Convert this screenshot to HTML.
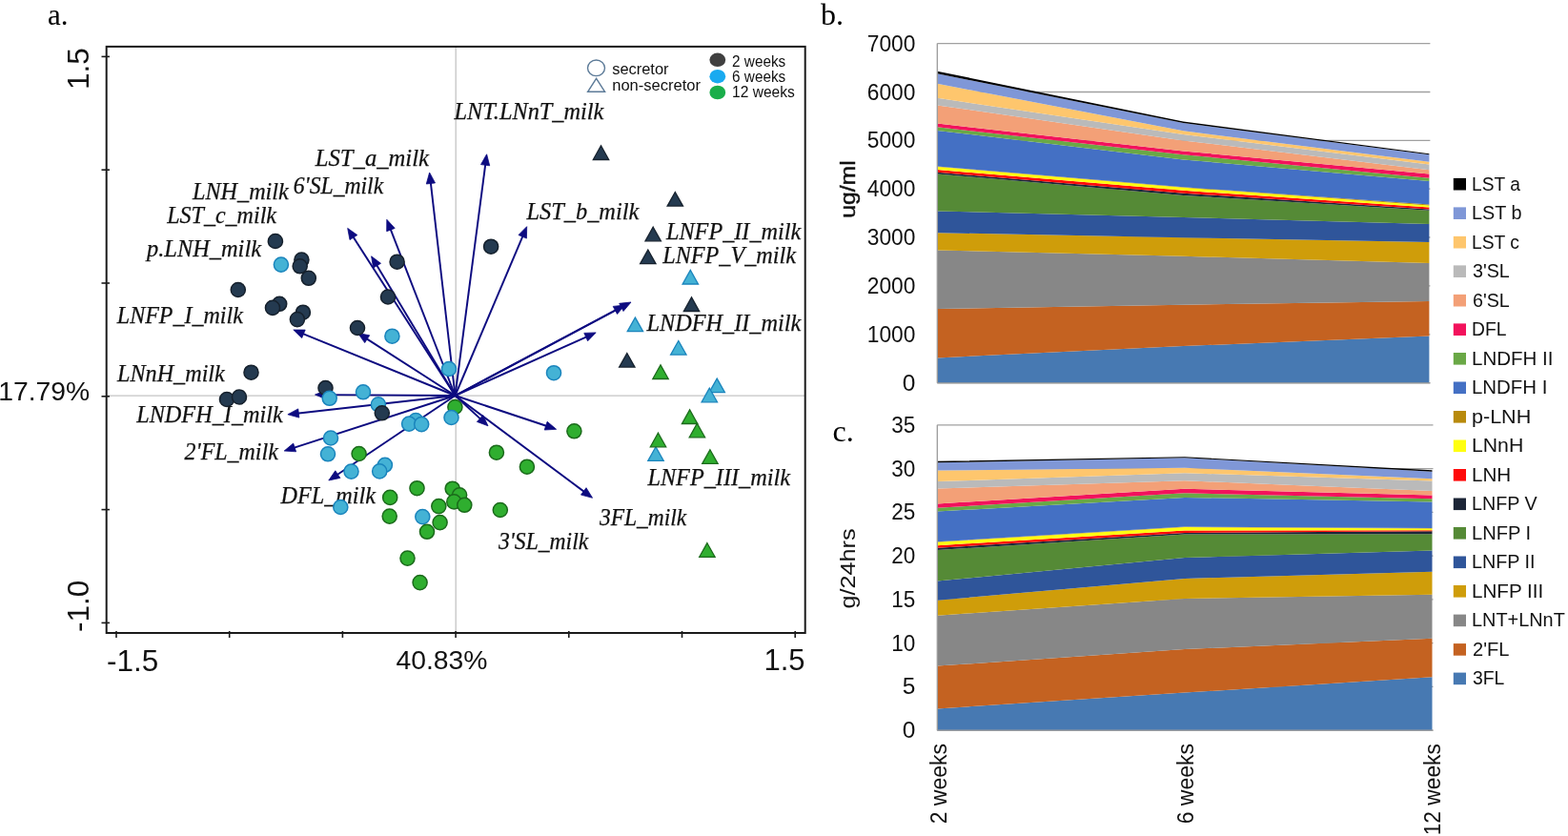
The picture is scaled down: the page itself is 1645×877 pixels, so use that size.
<!DOCTYPE html>
<html><head><meta charset="utf-8"><title>Figure</title><style>
html,body{margin:0;padding:0;background:#fff;overflow:hidden;}
svg{display:block;}
</style></head><body>
<svg width="1645" height="877" viewBox="0 0 1645 877">
<rect width="1645" height="877" fill="#fff"/>
<line x1="478.2" y1="48.9" x2="478.2" y2="664.0" stroke="#c4c4c4" stroke-width="1.3"/>
<line x1="111.7" y1="415.2" x2="844.7" y2="415.2" stroke="#c4c4c4" stroke-width="1.3"/>
<line x1="477.5" y1="415.0" x2="451.7" y2="190.4" stroke="#0d0b80" stroke-width="1.95"/>
<polygon points="450.6,181.0 456.5,191.9 447.3,193.0" fill="#0d0b80" stroke="#0d0b80" stroke-width="0.8" stroke-linejoin="miter"/>
<line x1="477.5" y1="415.0" x2="509.4" y2="171.2" stroke="#0d0b80" stroke-width="1.95"/>
<polygon points="510.6,161.8 513.7,173.8 504.5,172.6" fill="#0d0b80" stroke="#0d0b80" stroke-width="0.8" stroke-linejoin="miter"/>
<line x1="477.5" y1="415.0" x2="549.0" y2="246.4" stroke="#0d0b80" stroke-width="1.95"/>
<polygon points="552.7,237.7 552.4,250.1 544.0,246.5" fill="#0d0b80" stroke="#0d0b80" stroke-width="0.8" stroke-linejoin="miter"/>
<line x1="477.5" y1="415.0" x2="409.2" y2="239.2" stroke="#0d0b80" stroke-width="1.95"/>
<polygon points="405.8,230.3 414.2,239.4 405.7,242.7" fill="#0d0b80" stroke="#0d0b80" stroke-width="0.8" stroke-linejoin="miter"/>
<line x1="477.5" y1="415.0" x2="369.8" y2="247.4" stroke="#0d0b80" stroke-width="1.95"/>
<polygon points="364.7,239.4 374.8,246.6 367.0,251.6" fill="#0d0b80" stroke="#0d0b80" stroke-width="0.8" stroke-linejoin="miter"/>
<line x1="477.5" y1="415.0" x2="394.5" y2="276.9" stroke="#0d0b80" stroke-width="1.95"/>
<polygon points="389.6,268.8 399.5,276.3 391.6,281.0" fill="#0d0b80" stroke="#0d0b80" stroke-width="0.8" stroke-linejoin="miter"/>
<line x1="477.5" y1="415.0" x2="316.6" y2="349.6" stroke="#0d0b80" stroke-width="1.95"/>
<polygon points="307.8,346.0 320.2,346.1 316.7,354.6" fill="#0d0b80" stroke="#0d0b80" stroke-width="0.8" stroke-linejoin="miter"/>
<line x1="477.5" y1="415.0" x2="383.5" y2="354.6" stroke="#0d0b80" stroke-width="1.95"/>
<polygon points="375.5,349.5 387.7,351.8 382.7,359.6" fill="#0d0b80" stroke="#0d0b80" stroke-width="0.8" stroke-linejoin="miter"/>
<line x1="477.5" y1="415.0" x2="340.0" y2="414.1" stroke="#0d0b80" stroke-width="1.95"/>
<polygon points="330.5,414.0 342.0,409.5 342.0,418.7" fill="#0d0b80" stroke="#0d0b80" stroke-width="0.8" stroke-linejoin="miter"/>
<line x1="477.5" y1="415.0" x2="311.3" y2="433.7" stroke="#0d0b80" stroke-width="1.95"/>
<polygon points="301.9,434.8 312.8,428.9 313.8,438.1" fill="#0d0b80" stroke="#0d0b80" stroke-width="0.8" stroke-linejoin="miter"/>
<line x1="477.5" y1="415.0" x2="307.2" y2="470.1" stroke="#0d0b80" stroke-width="1.95"/>
<polygon points="298.2,473.0 307.7,465.1 310.6,473.8" fill="#0d0b80" stroke="#0d0b80" stroke-width="0.8" stroke-linejoin="miter"/>
<line x1="477.5" y1="415.0" x2="352.7" y2="498.7" stroke="#0d0b80" stroke-width="1.95"/>
<polygon points="344.8,504.0 351.8,493.8 356.9,501.4" fill="#0d0b80" stroke="#0d0b80" stroke-width="0.8" stroke-linejoin="miter"/>
<line x1="477.5" y1="415.0" x2="613.9" y2="516.6" stroke="#0d0b80" stroke-width="1.95"/>
<polygon points="621.5,522.3 609.5,519.1 615.0,511.7" fill="#0d0b80" stroke="#0d0b80" stroke-width="0.8" stroke-linejoin="miter"/>
<line x1="477.5" y1="415.0" x2="505.0" y2="440.4" stroke="#0d0b80" stroke-width="1.95"/>
<polygon points="512.0,446.8 500.4,442.4 506.7,435.6" fill="#0d0b80" stroke="#0d0b80" stroke-width="0.8" stroke-linejoin="miter"/>
<line x1="477.5" y1="415.0" x2="574.6" y2="447.3" stroke="#0d0b80" stroke-width="1.95"/>
<polygon points="583.6,450.3 571.2,451.0 574.1,442.3" fill="#0d0b80" stroke="#0d0b80" stroke-width="0.8" stroke-linejoin="miter"/>
<line x1="477.5" y1="415.0" x2="653.6" y2="321.5" stroke="#0d0b80" stroke-width="1.95"/>
<polygon points="662.0,317.0 654.0,326.5 649.7,318.3" fill="#0d0b80" stroke="#0d0b80" stroke-width="0.8" stroke-linejoin="miter"/>
<line x1="477.5" y1="415.0" x2="647.1" y2="324.5" stroke="#0d0b80" stroke-width="1.95"/>
<polygon points="655.5,320.0 647.5,329.5 643.2,321.4" fill="#0d0b80" stroke="#0d0b80" stroke-width="0.8" stroke-linejoin="miter"/>
<line x1="477.5" y1="415.0" x2="616.5" y2="352.8" stroke="#0d0b80" stroke-width="1.95"/>
<polygon points="625.2,348.9 616.6,357.8 612.8,349.4" fill="#0d0b80" stroke="#0d0b80" stroke-width="0.8" stroke-linejoin="miter"/>
<text x="476.4" y="125.3" font-family="Liberation Serif, serif" font-style="italic" font-size="24.3" fill="#111" stroke="#111" stroke-width="0.25" textLength="157.0" lengthAdjust="spacingAndGlyphs">LNT.LNnT_milk</text>
<text x="330.8" y="173.7" font-family="Liberation Serif, serif" font-style="italic" font-size="24.3" fill="#111" stroke="#111" stroke-width="0.25" textLength="119.2" lengthAdjust="spacingAndGlyphs">LST_a_milk</text>
<text x="307.8" y="202.9" font-family="Liberation Serif, serif" font-style="italic" font-size="24.3" fill="#111" stroke="#111" stroke-width="0.25" textLength="94.4" lengthAdjust="spacingAndGlyphs">6'SL_milk</text>
<text x="202.0" y="209.4" font-family="Liberation Serif, serif" font-style="italic" font-size="24.3" fill="#111" stroke="#111" stroke-width="0.25" textLength="100.8" lengthAdjust="spacingAndGlyphs">LNH_milk</text>
<text x="175.2" y="234.3" font-family="Liberation Serif, serif" font-style="italic" font-size="24.3" fill="#111" stroke="#111" stroke-width="0.25" textLength="114.8" lengthAdjust="spacingAndGlyphs">LST_c_milk</text>
<text x="552.6" y="229.5" font-family="Liberation Serif, serif" font-style="italic" font-size="24.3" fill="#111" stroke="#111" stroke-width="0.25" textLength="117.6" lengthAdjust="spacingAndGlyphs">LST_b_milk</text>
<text x="699.0" y="250.8" font-family="Liberation Serif, serif" font-style="italic" font-size="24.3" fill="#111" stroke="#111" stroke-width="0.25" textLength="141.2" lengthAdjust="spacingAndGlyphs">LNFP_II_milk</text>
<text x="154.0" y="268.5" font-family="Liberation Serif, serif" font-style="italic" font-size="24.3" fill="#111" stroke="#111" stroke-width="0.25" textLength="120.0" lengthAdjust="spacingAndGlyphs">p.LNH_milk</text>
<text x="695.2" y="275.9" font-family="Liberation Serif, serif" font-style="italic" font-size="24.3" fill="#111" stroke="#111" stroke-width="0.25" textLength="139.8" lengthAdjust="spacingAndGlyphs">LNFP_V_milk</text>
<text x="122.8" y="339.0" font-family="Liberation Serif, serif" font-style="italic" font-size="24.3" fill="#111" stroke="#111" stroke-width="0.25" textLength="132.0" lengthAdjust="spacingAndGlyphs">LNFP_I_milk</text>
<text x="678.6" y="346.6" font-family="Liberation Serif, serif" font-style="italic" font-size="24.3" fill="#111" stroke="#111" stroke-width="0.25" textLength="161.6" lengthAdjust="spacingAndGlyphs">LNDFH_II_milk</text>
<text x="123.0" y="399.5" font-family="Liberation Serif, serif" font-style="italic" font-size="24.3" fill="#111" stroke="#111" stroke-width="0.25" textLength="112.8" lengthAdjust="spacingAndGlyphs">LNnH_milk</text>
<text x="143.2" y="442.9" font-family="Liberation Serif, serif" font-style="italic" font-size="24.3" fill="#111" stroke="#111" stroke-width="0.25" textLength="153.6" lengthAdjust="spacingAndGlyphs">LNDFH_I_milk</text>
<text x="193.6" y="481.7" font-family="Liberation Serif, serif" font-style="italic" font-size="24.3" fill="#111" stroke="#111" stroke-width="0.25" textLength="98.2" lengthAdjust="spacingAndGlyphs">2'FL_milk</text>
<text x="679.4" y="508.5" font-family="Liberation Serif, serif" font-style="italic" font-size="24.3" fill="#111" stroke="#111" stroke-width="0.25" textLength="149.6" lengthAdjust="spacingAndGlyphs">LNFP_III_milk</text>
<text x="294.4" y="527.7" font-family="Liberation Serif, serif" font-style="italic" font-size="24.3" fill="#111" stroke="#111" stroke-width="0.25" textLength="99.6" lengthAdjust="spacingAndGlyphs">DFL_milk</text>
<text x="629.0" y="550.6" font-family="Liberation Serif, serif" font-style="italic" font-size="24.3" fill="#111" stroke="#111" stroke-width="0.25" textLength="91.2" lengthAdjust="spacingAndGlyphs">3FL_milk</text>
<text x="523.0" y="576.2" font-family="Liberation Serif, serif" font-style="italic" font-size="24.3" fill="#111" stroke="#111" stroke-width="0.25" textLength="94.2" lengthAdjust="spacingAndGlyphs">3'SL_milk</text>
<circle cx="288.9" cy="253" r="7.55" fill="#243a50" stroke="#16212d" stroke-width="1.5"/>
<circle cx="316.4" cy="272.6" r="7.55" fill="#243a50" stroke="#16212d" stroke-width="1.5"/>
<circle cx="314.7" cy="279.3" r="7.55" fill="#243a50" stroke="#16212d" stroke-width="1.5"/>
<circle cx="323.8" cy="291.8" r="7.55" fill="#243a50" stroke="#16212d" stroke-width="1.5"/>
<circle cx="249.8" cy="304" r="7.55" fill="#243a50" stroke="#16212d" stroke-width="1.5"/>
<circle cx="293.2" cy="318.8" r="7.55" fill="#243a50" stroke="#16212d" stroke-width="1.5"/>
<circle cx="286" cy="322.9" r="7.55" fill="#243a50" stroke="#16212d" stroke-width="1.5"/>
<circle cx="317.9" cy="327.7" r="7.55" fill="#243a50" stroke="#16212d" stroke-width="1.5"/>
<circle cx="311.9" cy="335.1" r="7.55" fill="#243a50" stroke="#16212d" stroke-width="1.5"/>
<circle cx="416.6" cy="274.7" r="7.55" fill="#243a50" stroke="#16212d" stroke-width="1.5"/>
<circle cx="407" cy="311.5" r="7.55" fill="#243a50" stroke="#16212d" stroke-width="1.5"/>
<circle cx="375" cy="344" r="7.55" fill="#243a50" stroke="#16212d" stroke-width="1.5"/>
<circle cx="515.1" cy="258.7" r="7.55" fill="#243a50" stroke="#16212d" stroke-width="1.5"/>
<circle cx="263.5" cy="390.7" r="7.55" fill="#243a50" stroke="#16212d" stroke-width="1.5"/>
<circle cx="238" cy="419" r="7.55" fill="#243a50" stroke="#16212d" stroke-width="1.5"/>
<circle cx="251" cy="416.5" r="7.55" fill="#243a50" stroke="#16212d" stroke-width="1.5"/>
<circle cx="341.5" cy="407" r="7.55" fill="#243a50" stroke="#16212d" stroke-width="1.5"/>
<circle cx="294.9" cy="277.6" r="7.55" fill="#44b2d5" stroke="#1a84bc" stroke-width="1.5"/>
<circle cx="411.4" cy="352.7" r="7.55" fill="#44b2d5" stroke="#1a84bc" stroke-width="1.5"/>
<circle cx="471" cy="387" r="7.55" fill="#44b2d5" stroke="#1a84bc" stroke-width="1.5"/>
<circle cx="345.7" cy="417.8" r="7.55" fill="#44b2d5" stroke="#1a84bc" stroke-width="1.5"/>
<circle cx="381" cy="411.3" r="7.55" fill="#44b2d5" stroke="#1a84bc" stroke-width="1.5"/>
<circle cx="396.9" cy="424.4" r="7.55" fill="#44b2d5" stroke="#1a84bc" stroke-width="1.5"/>
<circle cx="436.2" cy="441" r="7.55" fill="#44b2d5" stroke="#1a84bc" stroke-width="1.5"/>
<circle cx="429.1" cy="444.6" r="7.55" fill="#44b2d5" stroke="#1a84bc" stroke-width="1.5"/>
<circle cx="442.2" cy="445.1" r="7.55" fill="#44b2d5" stroke="#1a84bc" stroke-width="1.5"/>
<circle cx="347" cy="459.5" r="7.55" fill="#44b2d5" stroke="#1a84bc" stroke-width="1.5"/>
<circle cx="344" cy="476.3" r="7.55" fill="#44b2d5" stroke="#1a84bc" stroke-width="1.5"/>
<circle cx="368.5" cy="494.6" r="7.55" fill="#44b2d5" stroke="#1a84bc" stroke-width="1.5"/>
<circle cx="403.9" cy="487.8" r="7.55" fill="#44b2d5" stroke="#1a84bc" stroke-width="1.5"/>
<circle cx="398.2" cy="494.4" r="7.55" fill="#44b2d5" stroke="#1a84bc" stroke-width="1.5"/>
<circle cx="357.3" cy="532" r="7.55" fill="#44b2d5" stroke="#1a84bc" stroke-width="1.5"/>
<circle cx="443.3" cy="542.1" r="7.55" fill="#44b2d5" stroke="#1a84bc" stroke-width="1.5"/>
<circle cx="581" cy="391.2" r="7.55" fill="#44b2d5" stroke="#1a84bc" stroke-width="1.5"/>
<circle cx="400.8" cy="433.3" r="7.55" fill="#243a50" stroke="#16212d" stroke-width="1.5"/>
<circle cx="477.4" cy="427" r="7.55" fill="#2fae2f" stroke="#1b6a1b" stroke-width="1.5"/>
<circle cx="376.6" cy="476" r="7.55" fill="#2fae2f" stroke="#1b6a1b" stroke-width="1.5"/>
<circle cx="602.4" cy="452.3" r="7.55" fill="#2fae2f" stroke="#1b6a1b" stroke-width="1.5"/>
<circle cx="520.9" cy="474.7" r="7.55" fill="#2fae2f" stroke="#1b6a1b" stroke-width="1.5"/>
<circle cx="552.9" cy="489.7" r="7.55" fill="#2fae2f" stroke="#1b6a1b" stroke-width="1.5"/>
<circle cx="437.5" cy="512.2" r="7.55" fill="#2fae2f" stroke="#1b6a1b" stroke-width="1.5"/>
<circle cx="409.2" cy="521.9" r="7.55" fill="#2fae2f" stroke="#1b6a1b" stroke-width="1.5"/>
<circle cx="474.7" cy="512.7" r="7.55" fill="#2fae2f" stroke="#1b6a1b" stroke-width="1.5"/>
<circle cx="482.1" cy="519.3" r="7.55" fill="#2fae2f" stroke="#1b6a1b" stroke-width="1.5"/>
<circle cx="476.3" cy="526.4" r="7.55" fill="#2fae2f" stroke="#1b6a1b" stroke-width="1.5"/>
<circle cx="487.3" cy="529.8" r="7.55" fill="#2fae2f" stroke="#1b6a1b" stroke-width="1.5"/>
<circle cx="460.3" cy="531.1" r="7.55" fill="#2fae2f" stroke="#1b6a1b" stroke-width="1.5"/>
<circle cx="408.7" cy="541.6" r="7.55" fill="#2fae2f" stroke="#1b6a1b" stroke-width="1.5"/>
<circle cx="461.6" cy="548.1" r="7.55" fill="#2fae2f" stroke="#1b6a1b" stroke-width="1.5"/>
<circle cx="448" cy="557.8" r="7.55" fill="#2fae2f" stroke="#1b6a1b" stroke-width="1.5"/>
<circle cx="524.8" cy="535" r="7.55" fill="#2fae2f" stroke="#1b6a1b" stroke-width="1.5"/>
<circle cx="427.5" cy="585.6" r="7.55" fill="#2fae2f" stroke="#1b6a1b" stroke-width="1.5"/>
<circle cx="440.6" cy="611.1" r="7.55" fill="#2fae2f" stroke="#1b6a1b" stroke-width="1.5"/>
<circle cx="473.5" cy="438" r="7.55" fill="#44b2d5" stroke="#1a84bc" stroke-width="1.5"/>
<polygon points="630.5,152.9 638.7,167.5 622.3,167.5" fill="#243a50" stroke="#16212d" stroke-width="1.3" stroke-linejoin="miter"/>
<polygon points="708.3,201.5 716.5,216.1 700.1,216.1" fill="#243a50" stroke="#16212d" stroke-width="1.3" stroke-linejoin="miter"/>
<polygon points="685.2,238.2 693.4,252.8 677.0,252.8" fill="#243a50" stroke="#16212d" stroke-width="1.3" stroke-linejoin="miter"/>
<polygon points="679.8,262.0 688.0,276.6 671.6,276.6" fill="#243a50" stroke="#16212d" stroke-width="1.3" stroke-linejoin="miter"/>
<polygon points="725.5,311.9 733.7,326.5 717.3,326.5" fill="#243a50" stroke="#16212d" stroke-width="1.3" stroke-linejoin="miter"/>
<polygon points="657.8,370.5 666.0,385.1 649.6,385.1" fill="#243a50" stroke="#16212d" stroke-width="1.3" stroke-linejoin="miter"/>
<polygon points="724.3,283.4 732.5,298.0 716.1,298.0" fill="#44b2d5" stroke="#1a84bc" stroke-width="1.3" stroke-linejoin="miter"/>
<polygon points="666.4,333.1 674.6,347.7 658.2,347.7" fill="#44b2d5" stroke="#1a84bc" stroke-width="1.3" stroke-linejoin="miter"/>
<polygon points="711.8,357.5 720.0,372.1 703.6,372.1" fill="#44b2d5" stroke="#1a84bc" stroke-width="1.3" stroke-linejoin="miter"/>
<polygon points="752.2,397.1 760.4,411.7 744.0,411.7" fill="#44b2d5" stroke="#1a84bc" stroke-width="1.3" stroke-linejoin="miter"/>
<polygon points="744.3,407.2 752.5,421.8 736.1,421.8" fill="#44b2d5" stroke="#1a84bc" stroke-width="1.3" stroke-linejoin="miter"/>
<polygon points="688.0,468.8 696.2,483.4 679.8,483.4" fill="#44b2d5" stroke="#1a84bc" stroke-width="1.3" stroke-linejoin="miter"/>
<polygon points="693.0,382.9 701.2,397.5 684.8,397.5" fill="#2fae2f" stroke="#1b6a1b" stroke-width="1.3" stroke-linejoin="miter"/>
<polygon points="723.6,429.9 731.8,444.5 715.4,444.5" fill="#2fae2f" stroke="#1b6a1b" stroke-width="1.3" stroke-linejoin="miter"/>
<polygon points="731.4,444.2 739.6,458.8 723.2,458.8" fill="#2fae2f" stroke="#1b6a1b" stroke-width="1.3" stroke-linejoin="miter"/>
<polygon points="690.5,454.2 698.7,468.8 682.3,468.8" fill="#2fae2f" stroke="#1b6a1b" stroke-width="1.3" stroke-linejoin="miter"/>
<polygon points="744.9,471.8 753.1,486.4 736.7,486.4" fill="#2fae2f" stroke="#1b6a1b" stroke-width="1.3" stroke-linejoin="miter"/>
<polygon points="741.9,569.7 750.1,584.3 733.7,584.3" fill="#2fae2f" stroke="#1b6a1b" stroke-width="1.3" stroke-linejoin="miter"/>
<rect x="111.7" y="48.9" width="733.0" height="615.1" fill="none" stroke="#1a1a1a" stroke-width="2"/>
<line x1="106.5" y1="59.4" x2="115" y2="59.4" stroke="#1a1a1a" stroke-width="1.6"/>
<line x1="106.5" y1="178.2" x2="115" y2="178.2" stroke="#1a1a1a" stroke-width="1.6"/>
<line x1="106.5" y1="297.0" x2="115" y2="297.0" stroke="#1a1a1a" stroke-width="1.6"/>
<line x1="106.5" y1="415.8" x2="115" y2="415.8" stroke="#1a1a1a" stroke-width="1.6"/>
<line x1="106.5" y1="534.6" x2="115" y2="534.6" stroke="#1a1a1a" stroke-width="1.6"/>
<line x1="106.5" y1="653.4" x2="115" y2="653.4" stroke="#1a1a1a" stroke-width="1.6"/>
<line x1="122.0" y1="662.0" x2="122.0" y2="669.0" stroke="#1a1a1a" stroke-width="1.6"/>
<line x1="240.7" y1="662.0" x2="240.7" y2="669.0" stroke="#1a1a1a" stroke-width="1.6"/>
<line x1="359.4" y1="662.0" x2="359.4" y2="669.0" stroke="#1a1a1a" stroke-width="1.6"/>
<line x1="478.1" y1="662.0" x2="478.1" y2="669.0" stroke="#1a1a1a" stroke-width="1.6"/>
<line x1="596.8" y1="662.0" x2="596.8" y2="669.0" stroke="#1a1a1a" stroke-width="1.6"/>
<line x1="715.5" y1="662.0" x2="715.5" y2="669.0" stroke="#1a1a1a" stroke-width="1.6"/>
<line x1="834.2" y1="662.0" x2="834.2" y2="669.0" stroke="#1a1a1a" stroke-width="1.6"/>
<text transform="translate(93.2,94) rotate(-90)" font-family="Liberation Sans, sans-serif" font-size="31.5" fill="#111">1.5</text>
<text transform="translate(93.2,663) rotate(-90)" font-family="Liberation Sans, sans-serif" font-size="31.5" fill="#111">-1.0</text>
<text x="112" y="703.5" font-family="Liberation Sans, sans-serif" font-size="31.5" fill="#111">-1.5</text>
<text x="415.5" y="701.5" font-family="Liberation Sans, sans-serif" font-size="28.3" fill="#111">40.83%</text>
<text x="801.5" y="702.7" font-family="Liberation Sans, sans-serif" font-size="31" fill="#111">1.5</text>
<text x="-1.8" y="419.5" font-family="Liberation Sans, sans-serif" font-size="28.3" fill="#111">17.79%</text>
<text x="50" y="26" font-family="Liberation Serif, serif" font-size="31" fill="#000">a.</text>
<ellipse cx="625.5" cy="71.3" rx="9" ry="8.3" fill="none" stroke="#5d7b98" stroke-width="1.4"/>
<polygon points="625.6,82.3 634.6,96.3 616.6,96.3" fill="none" stroke="#5d7b98" stroke-width="1.4"/>
<ellipse cx="752.8" cy="62.8" rx="8.4" ry="7.3" fill="#404040"/>
<ellipse cx="752.8" cy="80.2" rx="8.4" ry="7.3" fill="#19aaf0"/>
<ellipse cx="752.8" cy="97.0" rx="8.4" ry="7.3" fill="#1aae4a"/>
<text x="642.2" y="77.6" font-family="Liberation Sans, sans-serif" font-size="16.5" fill="#111" textLength="59.3" lengthAdjust="spacingAndGlyphs">secretor</text>
<text x="642.2" y="94.7" font-family="Liberation Sans, sans-serif" font-size="16.5" fill="#111" textLength="92.8" lengthAdjust="spacingAndGlyphs">non-secretor</text>
<text x="768.1" y="69.7" font-family="Liberation Sans, sans-serif" font-size="16.5" fill="#111" textLength="56.1" lengthAdjust="spacingAndGlyphs">2 weeks</text>
<text x="768.1" y="85.8" font-family="Liberation Sans, sans-serif" font-size="16.5" fill="#111" textLength="56.1" lengthAdjust="spacingAndGlyphs">6 weeks</text>
<text x="768.1" y="102" font-family="Liberation Sans, sans-serif" font-size="16.5" fill="#111" textLength="65.7" lengthAdjust="spacingAndGlyphs">12 weeks</text>
<line x1="983.3" y1="45.6" x2="1500.4" y2="45.6" stroke="#a0a0a0" stroke-width="1.3"/>
<line x1="983.3" y1="96.5" x2="1500.4" y2="96.5" stroke="#a0a0a0" stroke-width="1.3"/>
<line x1="983.3" y1="147.3" x2="1500.4" y2="147.3" stroke="#a0a0a0" stroke-width="1.3"/>
<line x1="983.3" y1="198.2" x2="1500.4" y2="198.2" stroke="#a0a0a0" stroke-width="1.3"/>
<line x1="983.3" y1="249.0" x2="1500.4" y2="249.0" stroke="#a0a0a0" stroke-width="1.3"/>
<line x1="983.3" y1="299.9" x2="1500.4" y2="299.9" stroke="#a0a0a0" stroke-width="1.3"/>
<line x1="983.3" y1="350.8" x2="1500.4" y2="350.8" stroke="#a0a0a0" stroke-width="1.3"/>
<line x1="983.3" y1="401.6" x2="1500.4" y2="401.6" stroke="#a0a0a0" stroke-width="1.3"/>
<polygon points="983.3,401.8 1241.4,401.8 1499.4,401.8 1499.4,352.4 1241.4,363.1 983.3,375.4" fill="#4779b2"/>
<polygon points="983.3,375.4 1241.4,363.1 1499.4,352.4 1499.4,315.9 1241.4,319.8 983.3,324.1" fill="#c46221"/>
<polygon points="983.3,324.1 1241.4,319.8 1499.4,315.9 1499.4,275.9 1241.4,268.8 983.3,262.5" fill="#878787"/>
<polygon points="983.3,262.5 1241.4,268.8 1499.4,275.9 1499.4,254 1241.4,249.3 983.3,244.2" fill="#cf9d0a"/>
<polygon points="983.3,244.2 1241.4,249.3 1499.4,254 1499.4,235 1241.4,227.9 983.3,221.4" fill="#2f559a"/>
<polygon points="983.3,221.4 1241.4,227.9 1499.4,235 1499.4,220.7 1241.4,205.0 983.3,182.5" fill="#558a36"/>
<polygon points="983.3,182.5 1241.4,205.0 1499.4,220.7 1499.4,219.6 1241.4,202.7 983.3,180.8" fill="#1c2637"/>
<polygon points="983.3,180.8 1241.4,202.7 1499.4,219.6 1499.4,217.4 1241.4,199.8 983.3,178.1" fill="#ff0a0a"/>
<polygon points="983.3,178.1 1241.4,199.8 1499.4,217.4 1499.4,215.4 1241.4,196.8 983.3,174.9" fill="#ffff10"/>
<polygon points="983.3,174.9 1241.4,196.8 1499.4,215.4 1499.4,214.6 1241.4,196.3 983.3,174.6" fill="#b88a0c"/>
<polygon points="983.3,174.6 1241.4,196.3 1499.4,214.6 1499.4,190.1 1241.4,167.4 983.3,137.0" fill="#4470c4"/>
<polygon points="983.3,137.0 1241.4,167.4 1499.4,190.1 1499.4,186.7 1241.4,162.2 983.3,133.3" fill="#6aa846"/>
<polygon points="983.3,133.3 1241.4,162.2 1499.4,186.7 1499.4,182.6 1241.4,158.5 983.3,129.5" fill="#f2125c"/>
<polygon points="983.3,129.5 1241.4,158.5 1499.4,182.6 1499.4,178.2 1241.4,147.4 983.3,110.4" fill="#f3a077"/>
<polygon points="983.3,110.4 1241.4,147.4 1499.4,178.2 1499.4,172.6 1241.4,141.1 983.3,102.8" fill="#bababa"/>
<polygon points="983.3,102.8 1241.4,141.1 1499.4,172.6 1499.4,169.8 1241.4,137.3 983.3,87.8" fill="#fec66d"/>
<polygon points="983.3,87.8 1241.4,137.3 1499.4,169.8 1499.4,162.2 1241.4,129.1 983.3,77.3" fill="#7f97d7"/>
<polygon points="983.3,77.3 1241.4,129.1 1499.4,162.2 1499.4,161.3 1241.4,127.4 983.3,74.8" fill="#000000"/>
<line x1="983.3" y1="45.6" x2="983.3" y2="401.8" stroke="#9a9a9a" stroke-width="1.3"/>
<line x1="983.3" y1="401.8" x2="1500.4" y2="401.8" stroke="#9a9a9a" stroke-width="1.2"/>
<text x="960.3" y="53.6" font-family="Liberation Sans, sans-serif" font-size="23.3" text-anchor="end" fill="#111" textLength="50.5" lengthAdjust="spacingAndGlyphs">7000</text>
<text x="960.3" y="104.5" font-family="Liberation Sans, sans-serif" font-size="23.3" text-anchor="end" fill="#111" textLength="50.5" lengthAdjust="spacingAndGlyphs">6000</text>
<text x="960.3" y="155.3" font-family="Liberation Sans, sans-serif" font-size="23.3" text-anchor="end" fill="#111" textLength="50.5" lengthAdjust="spacingAndGlyphs">5000</text>
<text x="960.3" y="206.2" font-family="Liberation Sans, sans-serif" font-size="23.3" text-anchor="end" fill="#111" textLength="50.5" lengthAdjust="spacingAndGlyphs">4000</text>
<text x="960.3" y="257.0" font-family="Liberation Sans, sans-serif" font-size="23.3" text-anchor="end" fill="#111" textLength="50.5" lengthAdjust="spacingAndGlyphs">3000</text>
<text x="960.3" y="307.9" font-family="Liberation Sans, sans-serif" font-size="23.3" text-anchor="end" fill="#111" textLength="50.5" lengthAdjust="spacingAndGlyphs">2000</text>
<text x="960.3" y="358.8" font-family="Liberation Sans, sans-serif" font-size="23.3" text-anchor="end" fill="#111" textLength="50.5" lengthAdjust="spacingAndGlyphs">1000</text>
<text x="960.3" y="409.6" font-family="Liberation Sans, sans-serif" font-size="23.3" text-anchor="end" fill="#111" textLength="13.6" lengthAdjust="spacingAndGlyphs">0</text>
<line x1="983.3" y1="445.8" x2="1503.5" y2="445.8" stroke="#a0a0a0" stroke-width="1.3"/>
<line x1="983.3" y1="491.6" x2="1503.5" y2="491.6" stroke="#a0a0a0" stroke-width="1.3"/>
<line x1="983.3" y1="537.3" x2="1503.5" y2="537.3" stroke="#a0a0a0" stroke-width="1.3"/>
<line x1="983.3" y1="583.1" x2="1503.5" y2="583.1" stroke="#a0a0a0" stroke-width="1.3"/>
<line x1="983.3" y1="628.9" x2="1503.5" y2="628.9" stroke="#a0a0a0" stroke-width="1.3"/>
<line x1="983.3" y1="674.7" x2="1503.5" y2="674.7" stroke="#a0a0a0" stroke-width="1.3"/>
<line x1="983.3" y1="720.4" x2="1503.5" y2="720.4" stroke="#a0a0a0" stroke-width="1.3"/>
<line x1="983.3" y1="766.2" x2="1503.5" y2="766.2" stroke="#a0a0a0" stroke-width="1.3"/>
<polygon points="983.3,766.2 1242.9,766.2 1502.5,766.2 1502.5,710.3 1242.9,726.6 983.3,743.5" fill="#4779b2"/>
<polygon points="983.3,743.5 1242.9,726.6 1502.5,710.3 1502.5,669.8 1242.9,681.1 983.3,698.6" fill="#c46221"/>
<polygon points="983.3,698.6 1242.9,681.1 1502.5,669.8 1502.5,623.7 1242.9,628 983.3,645.7" fill="#878787"/>
<polygon points="983.3,645.7 1242.9,628 1502.5,623.7 1502.5,599.8 1242.9,606.9 983.3,629.7" fill="#cf9d0a"/>
<polygon points="983.3,629.7 1242.9,606.9 1502.5,599.8 1502.5,577.5 1242.9,585 983.3,609.6" fill="#2f559a"/>
<polygon points="983.3,609.6 1242.9,585 1502.5,577.5 1502.5,560.3 1242.9,560.4 983.3,577.0" fill="#558a36"/>
<polygon points="983.3,577.0 1242.9,560.4 1502.5,560.3 1502.5,557.3 1242.9,558.9 983.3,574.8" fill="#1c2637"/>
<polygon points="983.3,574.8 1242.9,558.9 1502.5,557.3 1502.5,556.3 1242.9,556.6 983.3,572.2" fill="#ff0a0a"/>
<polygon points="983.3,572.2 1242.9,556.6 1502.5,556.3 1502.5,554.5 1242.9,553.0 983.3,568.8" fill="#ffff10"/>
<polygon points="983.3,568.8 1242.9,553.0 1502.5,554.5 1502.5,554.0 1242.9,552.6 983.3,568.3" fill="#b88a0c"/>
<polygon points="983.3,568.3 1242.9,552.6 1502.5,554.0 1502.5,526.4 1242.9,521.9 983.3,536.5" fill="#4470c4"/>
<polygon points="983.3,536.5 1242.9,521.9 1502.5,526.4 1502.5,523.3 1242.9,517.3 983.3,532.7" fill="#6aa846"/>
<polygon points="983.3,532.7 1242.9,517.3 1502.5,523.3 1502.5,519.5 1242.9,512.7 983.3,528.4" fill="#f2125c"/>
<polygon points="983.3,528.4 1242.9,512.7 1502.5,519.5 1502.5,515.1 1242.9,504.2 983.3,512.6" fill="#f3a077"/>
<polygon points="983.3,512.6 1242.9,504.2 1502.5,515.1 1502.5,504.5 1242.9,496.2 983.3,505.1" fill="#bababa"/>
<polygon points="983.3,505.1 1242.9,496.2 1502.5,504.5 1502.5,502.3 1242.9,490.7 983.3,493.6" fill="#fec66d"/>
<polygon points="983.3,493.6 1242.9,490.7 1502.5,502.3 1502.5,494.8 1242.9,480.3 983.3,485.3" fill="#7f97d7"/>
<polygon points="983.3,485.3 1242.9,480.3 1502.5,494.8 1502.5,493.2 1242.9,479.3 983.3,483.8" fill="#000000"/>
<line x1="983.3" y1="445.8" x2="983.3" y2="766.2" stroke="#9a9a9a" stroke-width="1.3"/>
<line x1="983.3" y1="766.2" x2="1503.5" y2="766.2" stroke="#9a9a9a" stroke-width="1.2"/>
<text x="960.3" y="453.8" font-family="Liberation Sans, sans-serif" font-size="23.3" text-anchor="end" fill="#111" textLength="25.0" lengthAdjust="spacingAndGlyphs">35</text>
<text x="960.3" y="499.6" font-family="Liberation Sans, sans-serif" font-size="23.3" text-anchor="end" fill="#111" textLength="25.0" lengthAdjust="spacingAndGlyphs">30</text>
<text x="960.3" y="545.3" font-family="Liberation Sans, sans-serif" font-size="23.3" text-anchor="end" fill="#111" textLength="25.0" lengthAdjust="spacingAndGlyphs">25</text>
<text x="960.3" y="591.1" font-family="Liberation Sans, sans-serif" font-size="23.3" text-anchor="end" fill="#111" textLength="25.0" lengthAdjust="spacingAndGlyphs">20</text>
<text x="960.3" y="636.9" font-family="Liberation Sans, sans-serif" font-size="23.3" text-anchor="end" fill="#111" textLength="25.0" lengthAdjust="spacingAndGlyphs">15</text>
<text x="960.3" y="682.7" font-family="Liberation Sans, sans-serif" font-size="23.3" text-anchor="end" fill="#111" textLength="25.0" lengthAdjust="spacingAndGlyphs">10</text>
<text x="960.3" y="728.4" font-family="Liberation Sans, sans-serif" font-size="23.3" text-anchor="end" fill="#111" textLength="13.6" lengthAdjust="spacingAndGlyphs">5</text>
<text x="960.3" y="774.2" font-family="Liberation Sans, sans-serif" font-size="23.3" text-anchor="end" fill="#111" textLength="13.6" lengthAdjust="spacingAndGlyphs">0</text>
<text x="861" y="25.5" font-family="Liberation Serif, serif" font-size="32" fill="#000">b.</text>
<text x="873.5" y="462.7" font-family="Liberation Serif, serif" font-size="32" fill="#000">c.</text>
<text transform="translate(897.4,228.8) rotate(-90)" font-family="Liberation Sans, sans-serif" font-size="22" fill="#111" stroke="#111" stroke-width="0.45" textLength="60.5" lengthAdjust="spacingAndGlyphs">ug/ml</text>
<text transform="translate(896.5,638.4) rotate(-90)" font-family="Liberation Sans, sans-serif" font-size="21.5" fill="#111" textLength="84" lengthAdjust="spacingAndGlyphs">g/24hrs</text>
<text transform="translate(992.6,864.3000000000001) rotate(-90)" font-family="Liberation Sans, sans-serif" font-size="23" fill="#111" textLength="84.2" lengthAdjust="spacingAndGlyphs">2 weeks</text>
<text transform="translate(1252.4,864.3000000000001) rotate(-90)" font-family="Liberation Sans, sans-serif" font-size="23" fill="#111" textLength="84.2" lengthAdjust="spacingAndGlyphs">6 weeks</text>
<text transform="translate(1511,876.3000000000001) rotate(-90)" font-family="Liberation Sans, sans-serif" font-size="23" fill="#111" textLength="96.2" lengthAdjust="spacingAndGlyphs">12 weeks</text>
<rect x="1524.8" y="186.9" width="13.2" height="12.6" fill="#000000"/>
<text x="1544.0" y="199.7" font-family="Liberation Sans, sans-serif" font-size="20.5" fill="#111" textLength="50.8" lengthAdjust="spacingAndGlyphs">LST a</text>
<rect x="1524.8" y="217.4" width="13.2" height="12.6" fill="#7f97d7"/>
<text x="1544.0" y="230.2" font-family="Liberation Sans, sans-serif" font-size="20.5" fill="#111" textLength="52.4" lengthAdjust="spacingAndGlyphs">LST b</text>
<rect x="1524.8" y="247.9" width="13.2" height="12.6" fill="#fec66d"/>
<text x="1544.0" y="260.7" font-family="Liberation Sans, sans-serif" font-size="20.5" fill="#111" textLength="50.0" lengthAdjust="spacingAndGlyphs">LST c</text>
<rect x="1524.8" y="278.4" width="13.2" height="12.6" fill="#bababa"/>
<text x="1545.0" y="291.2" font-family="Liberation Sans, sans-serif" font-size="20.5" fill="#111" textLength="38.8" lengthAdjust="spacingAndGlyphs">3'SL</text>
<rect x="1524.8" y="308.9" width="13.2" height="12.6" fill="#f3a077"/>
<text x="1545.0" y="321.7" font-family="Liberation Sans, sans-serif" font-size="20.5" fill="#111" textLength="38.8" lengthAdjust="spacingAndGlyphs">6'SL</text>
<rect x="1524.8" y="339.4" width="13.2" height="12.6" fill="#f2125c"/>
<text x="1544.0" y="352.2" font-family="Liberation Sans, sans-serif" font-size="20.5" fill="#111" textLength="36.4" lengthAdjust="spacingAndGlyphs">DFL</text>
<rect x="1524.8" y="370.0" width="13.2" height="12.6" fill="#6aa846"/>
<text x="1544.0" y="382.8" font-family="Liberation Sans, sans-serif" font-size="20.5" fill="#111" textLength="85.4" lengthAdjust="spacingAndGlyphs">LNDFH II</text>
<rect x="1524.8" y="400.5" width="13.2" height="12.6" fill="#4470c4"/>
<text x="1544.0" y="413.3" font-family="Liberation Sans, sans-serif" font-size="20.5" fill="#111" textLength="79.4" lengthAdjust="spacingAndGlyphs">LNDFH I</text>
<rect x="1524.8" y="431.0" width="13.2" height="12.6" fill="#b88a0c"/>
<text x="1544.0" y="443.8" font-family="Liberation Sans, sans-serif" font-size="20.5" fill="#111" textLength="62.2" lengthAdjust="spacingAndGlyphs">p-LNH</text>
<rect x="1524.8" y="461.5" width="13.2" height="12.6" fill="#ffff10"/>
<text x="1544.0" y="474.3" font-family="Liberation Sans, sans-serif" font-size="20.5" fill="#111" textLength="54.2" lengthAdjust="spacingAndGlyphs">LNnH</text>
<rect x="1524.8" y="492.0" width="13.2" height="12.6" fill="#ff0a0a"/>
<text x="1544.0" y="504.8" font-family="Liberation Sans, sans-serif" font-size="20.5" fill="#111" textLength="41.2" lengthAdjust="spacingAndGlyphs">LNH</text>
<rect x="1524.8" y="522.5" width="13.2" height="12.6" fill="#1c2637"/>
<text x="1544.0" y="535.3" font-family="Liberation Sans, sans-serif" font-size="20.5" fill="#111" textLength="68.6" lengthAdjust="spacingAndGlyphs">LNFP V</text>
<rect x="1524.8" y="553.0" width="13.2" height="12.6" fill="#558a36"/>
<text x="1544.0" y="565.8" font-family="Liberation Sans, sans-serif" font-size="20.5" fill="#111" textLength="62.2" lengthAdjust="spacingAndGlyphs">LNFP I</text>
<rect x="1524.8" y="583.5" width="13.2" height="12.6" fill="#2f559a"/>
<text x="1544.0" y="596.3" font-family="Liberation Sans, sans-serif" font-size="20.5" fill="#111" textLength="66.6" lengthAdjust="spacingAndGlyphs">LNFP II</text>
<rect x="1524.8" y="614.0" width="13.2" height="12.6" fill="#cf9d0a"/>
<text x="1544.0" y="626.8" font-family="Liberation Sans, sans-serif" font-size="20.5" fill="#111" textLength="75.2" lengthAdjust="spacingAndGlyphs">LNFP III</text>
<rect x="1524.8" y="644.6" width="13.2" height="12.6" fill="#878787"/>
<text x="1544.0" y="657.4" font-family="Liberation Sans, sans-serif" font-size="20.5" fill="#111" textLength="97.8" lengthAdjust="spacingAndGlyphs">LNT+LNnT</text>
<rect x="1524.8" y="675.1" width="13.2" height="12.6" fill="#c46221"/>
<text x="1545.0" y="687.9" font-family="Liberation Sans, sans-serif" font-size="20.5" fill="#111" textLength="38.4" lengthAdjust="spacingAndGlyphs">2'FL</text>
<rect x="1524.8" y="705.6" width="13.2" height="12.6" fill="#4779b2"/>
<text x="1545.0" y="718.4" font-family="Liberation Sans, sans-serif" font-size="20.5" fill="#111" textLength="33.4" lengthAdjust="spacingAndGlyphs">3FL</text>
</svg>
</body></html>
